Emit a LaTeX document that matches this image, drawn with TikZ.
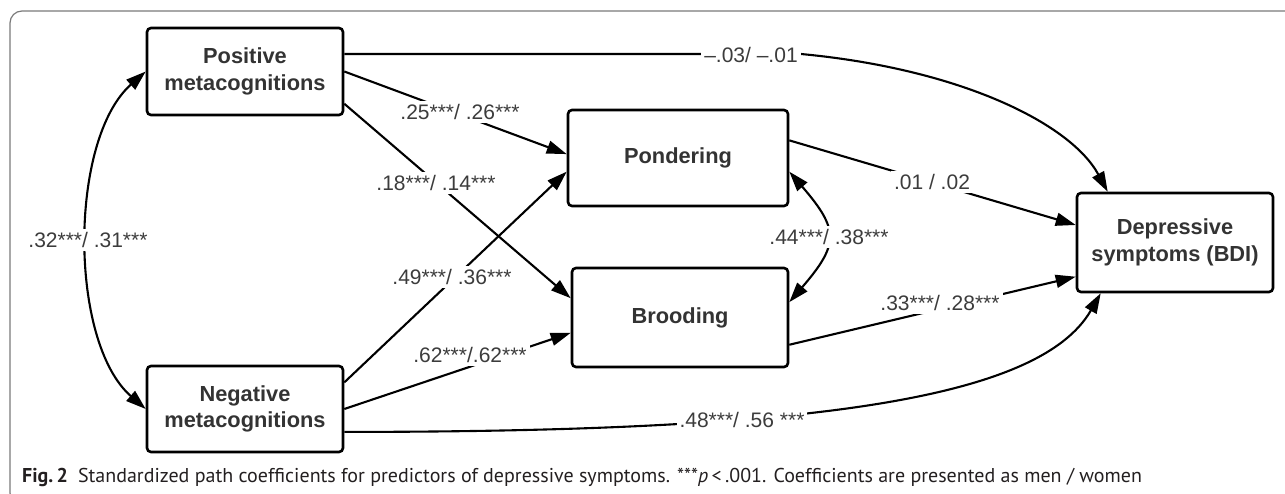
\documentclass[tikz,border=0pt]{standalone}
\usepackage{fontspec}
\setmainfont{Liberation Sans}
\newfontfamily\capfont{PT Sans}
\usetikzlibrary{arrows.meta,calc}
\definecolor{boxtext}{HTML}{333333}
\definecolor{lbltext}{HTML}{3C3C3C}
\definecolor{framegray}{HTML}{7A7A7A}
\definecolor{captext}{HTML}{231F20}
\begin{document}
\begin{tikzpicture}[x=1pt,y=-1pt,
  box/.style={draw=black, line width=2.6pt, rounded corners=4pt, fill=white, align=center,
    font=\fontsize{21.8}{26.5}\selectfont\bfseries, text=boxtext, inner sep=0pt},
  conn/.style={line width=2.1pt, -{Triangle[length=20pt,width=13pt]}},
  dconn/.style={line width=2.1pt, {Triangle[length=20pt,width=13pt]}-{Triangle[length=20pt,width=13pt]}},
  lbl/.style={fill=white, inner sep=3pt, font=\fontsize{21}{24}\selectfont, text=lbltext},
]
\useasboundingbox (0,0) rectangle (1285,494);
\clip (0,0) rectangle (1285,494);
% frame
\draw[framegray, line width=1.2pt, rounded corners=12pt] (10,11) rectangle (1320,505);

% boxes
\node[box, minimum width=196pt, minimum height=87pt] (pos) at (245,71.5) {Positive\\metacognitions};
\node[box, minimum width=196pt, minimum height=86pt] (neg) at (245,409) {Negative\\metacognitions};
\node[box, minimum width=220pt, minimum height=96pt] (pon) at (678,158) {Pondering};
\node[box, minimum width=216pt, minimum height=99pt] (bro) at (680,317.5) {Brooding};
\node[box, minimum width=196pt, minimum height=99pt] (dep) at (1175,242.5) {Depressive\\symptoms (BDI)};

% label node used for the top path
\path (751,55) node[lbl] (l1) {–.03/ –.01};
\coordinate (t1) at (l1.east |- pos.10);

% connectors
\draw[conn] (pos.10) -- (t1) .. controls ($(t1)+(160,15)$) and ($(dep.north west)+(-5,-68)$) .. ($(dep.north west)+(32,0)$);
\draw[conn] (pos.-18) -- (bro.170);
\draw[conn] (pos.east) -- (pon.178);
\draw[conn] (neg.15) -- (pon.-173);
\draw[conn] (neg.east) -- (bro.188);
\draw[conn] (pon.9) -- (dep.170);
\draw[conn] (bro.-14) -- (dep.199);
\draw[conn] (neg.-13) .. controls ($(neg.-13)+(457,0)$) and ($(dep.south west)+(-37,108)$) .. ($(dep.south west)+(25,0)$);
\draw[dconn] (pos.west) .. controls ($(pos.west)+(-77,68)$) and ($(neg.west)+(-77,-67)$) .. (neg.west);
\draw[dconn] (pon.-7) .. controls ($(pon.-7)+(50,58)$) and ($(bro.8)+(50,-58)$) .. (bro.8);

% labels on top
\node[lbl] at (l1) {–.03/ –.01};
\node[lbl] (l2) at (460,112) {.25***/ .26***};
\node[lbl] (l3) at (436,183) {.18***/ .14***};
\node[lbl] (l4) at (452,277) {.49***/ .36***};
\node[lbl] (l5) at (470,355) {.62***/.62***};
\node[lbl] (l6) at (932,182) {.01 / .02};
\node[lbl] (l7) at (829,237) {.44***/ .38***};
\node[lbl] (l8) at (940,303) {.33***/ .28***};
\node[lbl] (l9) at (742,420) {.48***/ .56 ***};
\node[lbl] (l10) at (88,240) {.32***/ .31***};

% caption
\node[anchor=base west, inner sep=0pt, text=captext, font=\capfont\fontsize{20}{23}\selectfont] (cap) at (22,482)
  {\textbf{Fig.\,2}\hspace{10pt}Standardized path coefficients for predictors of depressive symptoms. ***\textit{p}\,<\,.001. Coefficients are presented as men / women};
\end{tikzpicture}
\end{document}
